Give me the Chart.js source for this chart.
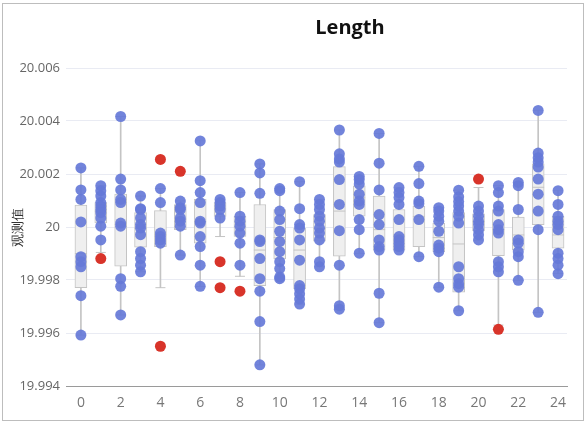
<!DOCTYPE html>
<html>
<head>
<meta charset="utf-8">
<script src="https://cdn.jsdelivr.net/npm/chart.js@4"></script>
<style>
    html, body { margin: 0; padding: 0; background: #fff; }
    #wrap { position: relative; width: 586px; height: 423px; }
    #frame { position: absolute; left: 2px; top: 3px; width: 580px; height: 416px; border: 1px solid #bdbdbd; }
    #title { position: absolute; left: 300px; top: 13px; width: 100px; text-align: center;
             font: bold 20px 'Open Sans', sans-serif; color: #111; }
    #chart { position: absolute; left: 0; top: 0; }
</style>
</head>
<body>
<div id="wrap">
    <div id="frame"></div>
    <canvas id="chart" width="586" height="423"></canvas>
    <div id="title">Length</div>
</div>
<script>
//kategorier (x)
const categories = [0, 1, 2, 3, 4, 5, 6, 7, 8, 9, 10, 11, 12, 13, 14, 15, 16, 17, 18, 19, 20, 21, 22, 23, 24];

//observationer per kategori
const pointValues = [
    [20.00223, 20.00140, 20.00104, 20.00019, 19.99888, 19.99869, 19.99850, 19.99741, 19.99592],
    [20.00156, 20.00137, 20.00117, 20.00092, 20.00079, 20.00066, 20.00054, 20.00034, 20.00003, 19.99951],
    [20.00417, 20.00181, 20.00140, 20.00104, 20.00092, 20.00015, 20.00003, 19.99805, 19.99776, 19.99668],
    [20.00117, 20.00069, 20.00066, 20.00034, 20.00009, 19.99996, 19.99971, 19.99907, 19.99881, 19.99856, 19.99831],
    [20.00145, 20.00092, 19.99977, 19.99964, 19.99951, 19.99939],
    [20.00098, 20.00073, 20.00066, 20.00034, 20.00022, 20.00003, 19.99894],
    [20.00325, 20.00175, 20.00130, 20.00092, 20.00022, 20.00015, 19.99964, 19.99926, 19.99856, 19.99776],
    [20.00104, 20.00092, 20.00079, 20.00066, 20.00034],
    [20.00130, 20.00041, 20.00022, 20.00003, 19.99977, 19.99939, 19.99856],
    [20.00238, 20.00204, 20.00127, 19.99951, 19.99945, 19.99881, 19.99805, 19.99758, 19.99643, 19.99480],
    [20.00145, 20.00137, 20.00060, 20.00028, 19.99984, 19.99945, 19.99907, 19.99869, 19.99843, 19.99811, 19.99805],
    [20.00171, 20.00069, 20.00009, 19.99996, 19.99951, 19.99875, 19.99779, 19.99767, 19.99748, 19.99728, 19.99709],
    [20.00104, 20.00085, 20.00066, 20.00041, 20.00022, 19.99996, 19.99977, 19.99951, 19.99869, 19.99850],
    [20.00366, 20.00276, 20.00257, 20.00245, 20.00179, 20.00085, 19.99986, 19.99856, 19.99703, 19.99690],
    [20.00191, 20.00179, 20.00162, 20.00124, 20.00098, 20.00085, 20.00028, 19.99990, 19.99901],
    [20.00353, 20.00241, 20.00140, 20.00047, 20.00009, 19.99951, 19.99926, 19.99913, 19.99750, 19.99639],
    [20.00149, 20.00130, 20.00111, 20.00085, 20.00028, 19.99964, 19.99951, 19.99939, 19.99926, 19.99913],
    [20.00229, 20.00164, 20.00098, 20.00088, 20.00028, 19.99888],
    [20.00073, 20.00060, 20.00041, 20.00022, 19.99984, 19.99932, 19.99920, 19.99907, 19.99773],
    [20.00139, 20.00114, 20.00096, 20.00079, 20.00060, 20.00041, 20.00015, 19.99850, 19.99805, 19.99786, 19.99773, 19.99684],
    [20.00079, 20.00060, 20.00041, 20.00022, 20.00009, 19.99990, 19.99971, 19.99951],
    [20.00156, 20.00130, 20.00079, 20.00060, 20.00009, 19.99990, 19.99977, 19.99869, 19.99850, 19.99831],
    [20.00168, 20.00156, 20.00066, 19.99951, 19.99939, 19.99907, 19.99888, 19.99799],
    [20.00440, 20.00279, 20.00261, 20.00245, 20.00226, 20.00181, 20.00124, 20.00060, 19.99990, 19.99678],
    [20.00137, 20.00085, 20.00041, 20.00022, 20.00009, 19.99990, 19.99901, 19.99881, 19.99856, 19.99824]
];

//boxplot-statistik
const boxQ1 = [19.99771, 20.00015, 19.99852, 19.99924, 19.99926, 19.99990, 19.99939, 20.00040, 19.99964, 19.99779, 19.99880, 19.99767, 19.99947, 19.99890, 20.00041, 19.99913, 19.99913, 19.99926, 19.99907, 19.99754, 19.99985, 19.99892, 19.99913, 20.00009, 19.99920];
const boxMedian = [19.99900, 20.00060, 20.00010, 19.99995, 19.99970, 20.00030, 20.00020, 20.00070, 20.00000, 19.99913, 19.99960, 19.99913, 19.99995, 20.00060, 20.00110, 19.99990, 19.99970, 20.00040, 19.99960, 19.99936, 20.00020, 19.99990, 19.99970, 20.00150, 19.99970];
const boxQ3 = [20.00083, 20.00092, 20.00124, 20.00054, 20.00062, 20.00085, 20.00104, 20.00092, 20.00041, 20.00085, 20.00066, 19.99996, 20.00047, 20.00228, 20.00155, 20.00117, 20.00066, 20.00079, 20.00015, 20.00054, 20.00050, 20.00066, 20.00037, 20.00238, 20.00041];
const whiskerLow = [19.99592, 19.99904, 19.99668, 19.99831, 19.99771, 19.99894, 19.99776, 19.99964, 19.99814, 19.99480, 19.99805, 19.99709, 19.99850, 19.99690, 19.99901, 19.99639, 19.99913, 19.99888, 19.99773, 19.99684, 19.99951, 19.99630, 19.99799, 19.99678, 19.99824];
const whiskerHigh = [20.00223, 20.00156, 20.00417, 20.00117, 20.00145, 20.00098, 20.00325, 20.00104, 20.00130, 20.00238, 20.00145, 20.00171, 20.00104, 20.00366, 20.00191, 20.00353, 20.00149, 20.00229, 20.00073, 20.00139, 20.00149, 20.00156, 20.00168, 20.00440, 20.00137];

//avvikande värden (röda)
const outlierCats = [1, 4, 4, 5, 7, 7, 8, 20, 21];
const outlierValues = [19.99881, 20.00255, 19.99550, 20.00210, 19.99869, 19.99771, 19.99758, 20.00181, 19.99614];

const gray = '#c4c4c4';
Chart.defaults.font.family = "'Open Sans', sans-serif";

const observations = [];
categories.forEach((c, i) => pointValues[i].forEach(v => observations.push({ x: c, y: v })));

new Chart(document.getElementById('chart'), {
    type: 'bar',
    data: {
        datasets: [
            {
                type: 'bar',
                data: categories.map((c, i) => ({ x: c, y: [whiskerLow[i], whiskerHigh[i]] })),
                backgroundColor: gray,
                borderWidth: 0,
                barThickness: 1,
                grouped: false,
                order: 5
            },
            {
                type: 'bar',
                data: categories.map((c, i) => ({ x: c, y: [boxQ1[i], boxQ3[i]] })),
                backgroundColor: '#efefef',
                borderColor: gray,
                borderWidth: 1,
                borderSkipped: false,
                barThickness: 12,
                grouped: false,
                order: 4
            },
            {
                type: 'scatter',
                data: categories.map((c, i) => ({ x: c, y: boxMedian[i] })),
                pointStyle: 'line',
                pointRadius: 6,
                borderColor: gray,
                borderWidth: 1,
                order: 3
            },
            {
                type: 'scatter',
                data: categories.flatMap((c, i) => [{ x: c, y: whiskerLow[i] }, { x: c, y: whiskerHigh[i] }]),
                pointStyle: 'line',
                pointRadius: 5,
                borderColor: gray,
                borderWidth: 1,
                order: 2
            },
            {
                type: 'scatter',
                data: observations,
                pointRadius: 5.5,
                backgroundColor: 'rgba(102,122,216,0.92)',
                borderWidth: 0,
                order: 1
            },
            {
                type: 'scatter',
                data: outlierCats.map((c, i) => ({ x: c, y: outlierValues[i] })),
                pointRadius: 5.5,
                backgroundColor: '#d8342a',
                borderWidth: 0,
                order: 0
            }
        ]
    },
    options: {
        responsive: false,
        animation: false,
        layout: { padding: { left: 4, right: 19, top: 68, bottom: 7 } },
        plugins: {
            legend: { display: false },
            tooltip: { enabled: false }
        },
        scales: {
            x: {
                type: 'linear',
                offset: false,
                min: -0.75,
                max: 24.45,
                grid: { display: false, drawTicks: false },
                border: { display: true, color: '#9a9a9a', width: 1 },
                ticks: { stepSize: 2, includeBounds: false, padding: 9, color: '#777', font: { size: 14 } },
                afterFit: s => { s.height = 30; }
            },
            y: {
                min: 19.994,
                max: 20.006,
                grid: { color: '#e9ebf3', drawTicks: false },
                border: { display: false },
                ticks: {
                    stepSize: 0.002,
                    padding: 6,
                    color: '#666',
                    font: { size: 13 },
                    callback: v => String(Number(v.toFixed(3)))
                },
                title: { display: true, text: '观测值', color: '#333', font: { size: 13 }, padding: { top: 6, bottom: 4 } },
                afterFit: s => { s.width = 62; }
            }
        }
    }
});
</script>
</body>
</html>
